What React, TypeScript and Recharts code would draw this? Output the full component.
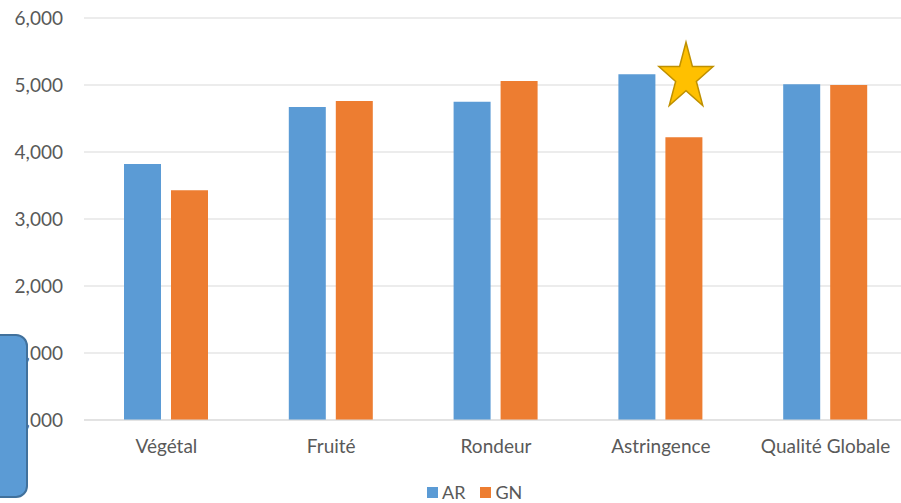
import React from 'react';
import { BarChart, Bar, XAxis, YAxis, CartesianGrid, Legend } from 'recharts';

const categories = ['Végétal', 'Fruité', 'Rondeur', 'Astringence', 'Qualité Globale'];
const arValues = [3.82, 4.67, 4.75, 5.16, 5.01];
const gnValues = [3.43, 4.76, 5.06, 4.22, 5.0];
const yTicks = [0, 1, 2, 3, 4, 5, 6];

const data = categories.map((c, i) => ({ name: c, AR: arValues[i], GN: gnValues[i] }));

const fmt = (v: number) => v.toFixed(3).replace('.', ',');

const FONT = "Lato, 'Open Sans', sans-serif";
const TEXT = '#595959';

const LegendContent = () => (
  <div style={{ position: 'relative', height: 30, fontFamily: FONT, fontSize: 18, color: TEXT }}>
    <div style={{ position: 'absolute', left: 427, top: 9, display: 'flex', alignItems: 'center', height: 20, lineHeight: '20px' }}>
      <span style={{ display: 'inline-block', width: 11, height: 11, background: '#5B9BD5', marginRight: 4 }} />
      <span style={{ marginRight: 15 }}>AR</span>
      <span style={{ display: 'inline-block', width: 11, height: 11, background: '#ED7D31', marginRight: 4 }} />
      <span>GN</span>
    </div>
  </div>
);

function starPoints(cx: number, cy: number, Rx: number, Ry: number, k: number) {
  const pts: string[] = [];
  for (let i = 0; i < 10; i++) {
    const ang = -Math.PI / 2 + (i * Math.PI) / 5;
    const f = i % 2 === 0 ? 1 : k;
    pts.push(`${cx + Rx * f * Math.cos(ang)},${cy + Ry * f * Math.sin(ang)}`);
  }
  return pts.join(' ');
}

export default function App() {
  return (
    <div style={{ position: 'absolute', left: 0, top: 0, width: 901, height: 503, background: '#fff', overflow: 'hidden' }}>
      <BarChart
        width={901}
        height={503}
        data={data}
        margin={{ top: 18, right: -7, bottom: 0, left: 0 }}
        barGap={10}
        barSize={37}
      >
        <CartesianGrid vertical={false} stroke="#D9D9D9" strokeWidth={1} />
        <XAxis
          dataKey="name"
          axisLine={{ stroke: '#D9D9D9' }}
          tickLine={false}
          tick={{ fill: TEXT, fontSize: 19, fontFamily: FONT }}
          tickMargin={14}
          height={53}
        />
        <YAxis
          domain={[0, 6]}
          ticks={yTicks}
          tickFormatter={fmt}
          axisLine={false}
          tickLine={false}
          tickSize={0}
          tickMargin={21}
          width={84}
          tick={{ fill: TEXT, fontSize: 19, fontFamily: FONT }}
        />
        <Legend verticalAlign="bottom" height={30} content={<LegendContent />} />
        <Bar dataKey="AR" fill="#5B9BD5" isAnimationActive={false} />
        <Bar dataKey="GN" fill="#ED7D31" isAnimationActive={false} />
      </BarChart>
      <svg style={{ position: 'absolute', left: 0, top: 0, pointerEvents: 'none' }} width={901} height={503}>
        <polygon points={starPoints(686, 77.3, 28.5, 35, 0.382)} fill="#FFC000" stroke="#BF9000" strokeWidth={1.5} />
      </svg>
      <div
        style={{
          position: 'absolute',
          left: -14,
          top: 334,
          width: 38,
          height: 160,
          background: '#5B9BD5',
          border: '2px solid #41719C',
          borderRadius: 12,
        }}
      />
    </div>
  );
}
